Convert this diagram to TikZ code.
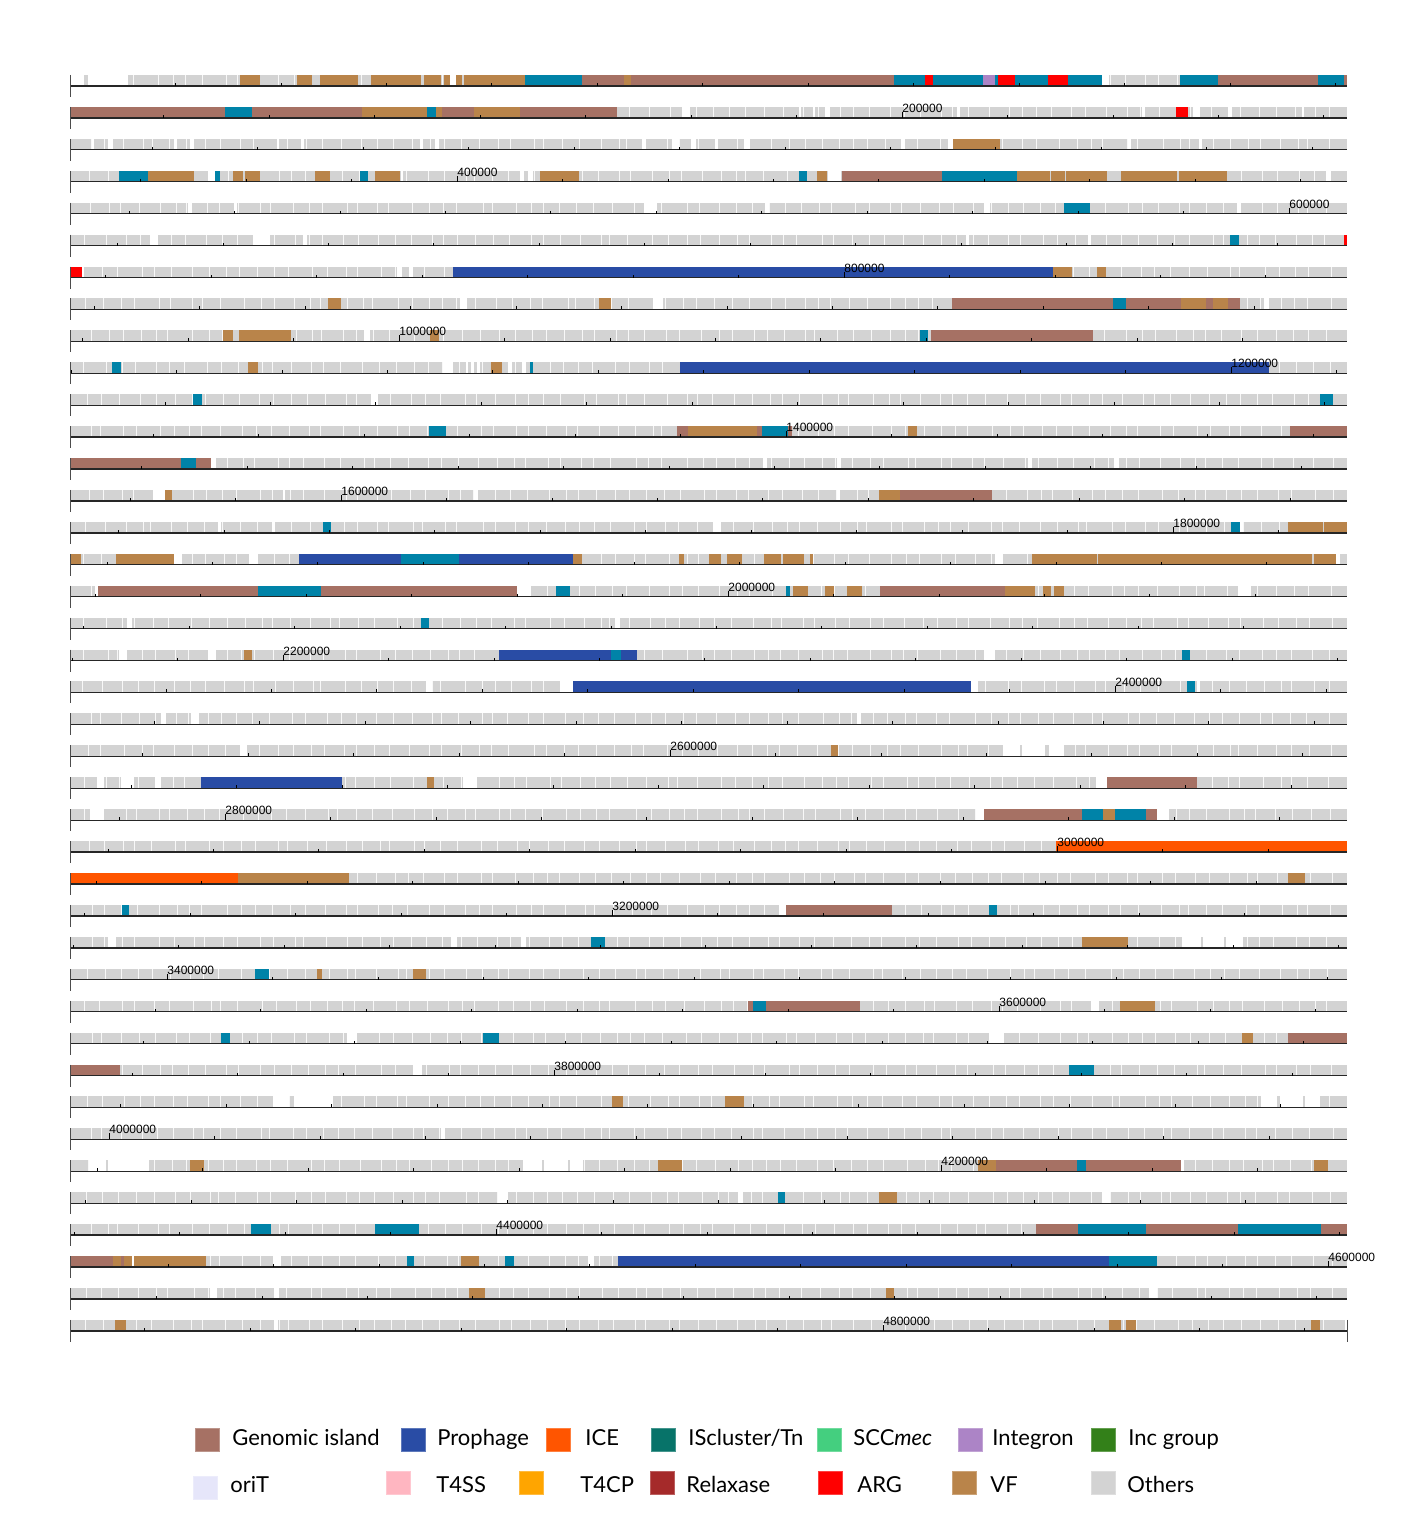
\documentclass[tikz,border=0pt]{standalone}
\usepackage{fontspec}
\usepackage{tikz}
\setmainfont{Lato}
\newfontfamily\tickfont{Liberation Sans}
\usetikzlibrary{positioning}
\definecolor{gicolor}{RGB}{166,113,100}
\definecolor{procolor}{RGB}{41,76,165}
\definecolor{icecolor}{RGB}{255,85,0}
\definecolor{istcolor}{RGB}{7,115,105}
\definecolor{isttrack}{RGB}{0,131,168}
\definecolor{scccolor}{RGB}{68,207,127}
\definecolor{igrcolor}{RGB}{172,132,198}
\definecolor{inccolor}{RGB}{51,128,25}
\definecolor{oritcolor}{RGB}{230,230,250}
\definecolor{tsscolor}{RGB}{255,182,193}
\definecolor{tcpcolor}{RGB}{255,165,0}
\definecolor{relcolor}{RGB}{165,42,42}
\definecolor{argcolor}{RGB}{255,0,0}
\definecolor{vfcolor}{RGB}{185,132,74}
\definecolor{othcolor}{RGB}{211,211,211}

\begin{document}
\begin{tikzpicture}[x=0.5pt, y=-0.5pt,
    axis/.style={draw=black!85, line width=0.65pt},
    rowstart/.style={draw=black!70, line width=0.5pt},
    tick/.style={draw=black, line width=0.4pt},
    poslabel/.style={anchor=south west, inner sep=0pt, font=\tickfont\fontsize{6}{7}\selectfont},
    legbox/.style={draw=#1!75!white, line width=0.3pt, fill=#1, minimum width=12pt, minimum height=11.5pt, inner sep=0pt},
    legtext/.style={anchor=base west, inner sep=0pt, font=\fontsize{11}{13}\selectfont}
]
\useasboundingbox (0,0) rectangle (1418,1514);

% Others (grey genes)
\pgfmathsetseed{17}
\foreach \r in {1,...,40} {
  \pgfmathsetmacro{\yb}{86+(\r-1)*31.92}
  \fill[othcolor] (70,\yb-11) rectangle (1347,\yb);
  \foreach \i in {1,...,74} {
    \pgfmathsetmacro{\sx}{70+\i*17+5*rand}
    \fill[white, opacity=0.85] (\sx,\yb-11) rectangle (\sx+0.9,\yb);
  }
}

% Elements
\foreach \r/\a/\b/\c in {
  1/240/260/vfcolor, 1/297/312/vfcolor, 1/320/358/vfcolor, 1/371/421/vfcolor, 1/424/441/vfcolor,
  1/444/450/vfcolor, 1/456/462/vfcolor, 1/464/525/vfcolor, 1/525/582/isttrack, 1/582/624/gicolor,
  1/624/631/vfcolor, 1/631/894/gicolor, 1/894/925/isttrack, 1/925/933/argcolor, 1/933/983/isttrack,
  1/983/995/igrcolor, 1/995/998/isttrack, 1/998/1015/argcolor, 1/1015/1048/isttrack, 1/1048/1068/argcolor,
  1/1068/1102/isttrack, 1/1180/1218/isttrack, 1/1218/1318/gicolor, 1/1318/1344/isttrack, 1/1344/1347/gicolor,
  2/70/225/gicolor, 2/225/252/isttrack, 2/252/362/gicolor, 2/362/427/vfcolor, 2/427/436/isttrack,
  2/436/442/vfcolor, 2/442/474/gicolor, 2/474/520/vfcolor, 2/520/617/gicolor, 2/1176/1188/argcolor,
  3/953/1000/vfcolor,
  4/119/148/isttrack, 4/148/194/vfcolor, 4/215/220/isttrack, 4/233/243/vfcolor, 4/245/260/vfcolor,
  4/315/330/vfcolor, 4/360/368/isttrack, 4/375/400/vfcolor, 4/540/579/vfcolor, 4/799/807/isttrack,
  4/817/827/vfcolor, 4/842/942/gicolor, 4/942/1017/isttrack, 4/1017/1050/vfcolor, 4/1051/1065/vfcolor,
  4/1066/1107/vfcolor, 4/1121/1177/vfcolor, 4/1179/1227/vfcolor,
  5/1064/1090/isttrack,
  6/1230/1239/isttrack, 6/1344/1347/argcolor,
  7/70/82/argcolor, 7/453/1053/procolor, 7/1053/1072/vfcolor, 7/1097/1106/vfcolor,
  8/328/341/vfcolor, 8/599/611/vfcolor, 8/952/1113/gicolor, 8/1113/1126/isttrack, 8/1126/1181/gicolor,
  8/1181/1206/vfcolor, 8/1206/1213/gicolor, 8/1213/1228/vfcolor, 8/1228/1240/gicolor,
  9/223/233/vfcolor, 9/239/291/vfcolor, 9/430/439/vfcolor, 9/920/928/isttrack, 9/931/1093/gicolor,
  10/112/121/isttrack, 10/248/258/vfcolor, 10/491/502/vfcolor, 10/530/533/isttrack, 10/680/1269/procolor,
  11/193/202/isttrack, 11/1320/1333/isttrack,
  12/429/446/isttrack, 12/677/688/gicolor, 12/688/757/vfcolor, 12/757/762/gicolor, 12/762/788/isttrack,
  12/788/792/gicolor, 12/908/917/vfcolor, 12/1290/1347/gicolor,
  13/70/181/gicolor, 13/181/196/isttrack, 13/196/211/gicolor,
  14/165/172/vfcolor, 14/879/900/vfcolor, 14/900/992/gicolor,
  15/323/331/isttrack, 15/1231/1240/isttrack, 15/1288/1323/vfcolor, 15/1324/1347/vfcolor,
  16/70/81/vfcolor, 16/116/174/vfcolor, 16/299/401/procolor, 16/401/459/isttrack, 16/459/573/procolor,
  16/573/582/vfcolor, 16/679/684/vfcolor, 16/709/721/vfcolor, 16/727/742/vfcolor, 16/764/781/vfcolor,
  16/783/804/vfcolor, 16/810/813/vfcolor, 16/1032/1097/vfcolor, 16/1098/1110/vfcolor, 16/1110/1312/vfcolor,
  16/1314/1336/vfcolor,
  17/98/258/gicolor, 17/258/321/isttrack, 17/321/517/gicolor, 17/556/570/isttrack, 17/786/790/isttrack,
  17/793/808/vfcolor, 17/825/834/vfcolor, 17/847/862/vfcolor, 17/880/1005/gicolor, 17/1005/1035/vfcolor,
  17/1043/1051/vfcolor, 17/1054/1064/vfcolor,
  18/421/429/isttrack,
  19/244/252/vfcolor, 19/499/611/procolor, 19/611/621/isttrack, 19/621/637/procolor, 19/1182/1190/isttrack,
  20/573/971/procolor, 20/1187/1195/isttrack,
  22/831/838/vfcolor,
  23/201/342/procolor, 23/427/434/vfcolor, 23/1107/1197/gicolor,
  24/984/1082/gicolor, 24/1082/1103/isttrack, 24/1103/1115/vfcolor, 24/1115/1146/isttrack, 24/1146/1157/gicolor,
  25/1056/1347/icecolor,
  26/70/238/icecolor, 26/238/283/vfcolor, 26/283/349/vfcolor, 26/1288/1305/vfcolor,
  27/122/129/isttrack, 27/786/892/gicolor, 27/989/997/isttrack,
  28/591/605/isttrack, 28/1082/1128/vfcolor,
  29/255/269/isttrack, 29/317/322/vfcolor, 29/413/426/vfcolor,
  30/748/753/gicolor, 30/753/766/isttrack, 30/766/860/gicolor, 30/1120/1155/vfcolor,
  31/221/230/isttrack, 31/483/499/isttrack, 31/1242/1253/vfcolor, 31/1288/1347/gicolor,
  32/70/120/gicolor, 32/1069/1094/isttrack,
  33/612/623/vfcolor, 33/725/744/vfcolor,
  35/190/204/vfcolor, 35/658/682/vfcolor, 35/978/996/vfcolor, 35/996/1077/gicolor, 35/1077/1086/isttrack,
  35/1086/1181/gicolor, 35/1314/1328/vfcolor,
  36/778/785/isttrack, 36/879/897/vfcolor,
  37/251/271/isttrack, 37/375/419/isttrack, 37/1036/1078/gicolor, 37/1078/1146/isttrack, 37/1146/1238/gicolor,
  37/1238/1321/isttrack, 37/1321/1347/gicolor,
  38/70/113/gicolor, 38/113/121/vfcolor, 38/121/124/gicolor, 38/124/132/vfcolor, 38/134/206/vfcolor,
  38/407/414/isttrack, 38/461/479/vfcolor, 38/505/514/isttrack, 38/618/1109/procolor, 38/1109/1157/isttrack,
  39/469/485/vfcolor, 39/886/894/vfcolor,
  40/115/126/vfcolor, 40/1109/1121/vfcolor, 40/1126/1136/vfcolor, 40/1311/1320/vfcolor} {
  \pgfmathsetmacro{\yb}{86+(\r-1)*31.92}
  \fill[fill=\c] (\a,\yb-11) rectangle (\b,\yb);
}

% Gaps between genes
\foreach \r/\a/\b in {
  1/71/84, 1/88/128, 1/450/456, 1/1102/1109,
  2/682/690, 2/799/801, 2/813/815, 2/825/830, 2/957/960, 2/1142/1145, 2/1193/1200, 2/1228/1232, 2/1302/1304,
  3/92/94, 3/108/113, 3/174/177, 3/190/194, 3/277/279, 3/301/304, 3/420/423, 3/435/439, 3/642/646,
  3/672/679, 3/691/696, 3/715/718, 3/744/750, 3/901/905, 3/948/953, 3/1128/1131, 3/1199/1202,
  4/208/215, 4/401/403, 4/520/524, 4/528/533, 4/828/841, 4/1326/1331,
  5/188/192, 5/234/237, 5/644/657, 5/765/769, 5/984/990, 5/1237/1241,
  6/150/158, 6/253/270, 6/303/307, 6/966/969, 6/1088/1091,
  7/82/84, 7/397/402, 7/409/413,
  8/460/467, 8/653/663, 8/1264/1269,
  9/364/370,
  10/443/453, 10/466/468, 10/471/474, 10/477/480, 10/508/512, 10/522/526,
  11/371/378,
  13/211/216, 13/763/767, 13/837/841, 13/1028/1032, 13/1114/1119,
  14/153/165, 14/283/285, 14/474/478, 14/837/840,
  15/218/221, 15/272/275, 15/713/721, 15/1240/1243,
  16/174/182, 16/249/258, 16/995/1003, 16/1336/1340,
  17/95/98, 17/517/531, 17/1238/1251,
  18/127/132, 18/615/620,
  19/119/127, 19/208/216, 19/984/995,
  20/426/432, 20/560/573, 20/971/978, 20/1197/1200,
  21/161/166, 21/191/199, 21/857/861,
  22/240/247, 22/1003/1020, 22/1022/1045, 22/1049/1064,
  23/97/104, 23/121/134, 23/155/161, 23/463/477, 23/1096/1107,
  24/90/104, 24/976/984, 24/1157/1169,
  27/779/786,
  28/108/116, 28/451/457, 28/521/526, 28/1182/1201, 28/1203/1224, 28/1226/1243,
  30/1091/1099,
  31/347/357, 31/989/1004,
  32/413/422,
  33/273/289, 33/294/333, 33/1261/1277, 33/1280/1303, 33/1305/1320,
  34/441/445,
  35/89/106, 35/108/149, 35/523/542, 35/544/568, 35/570/583, 35/1181/1184,
  36/498/508, 36/738/743, 36/1102/1110,
  38/132/134, 38/273/281, 38/588/594,
  39/210/217, 39/274/279, 39/1149/1157,
  40/274/278, 40/1345/1347} {
  \pgfmathsetmacro{\yb}{86+(\r-1)*31.92}
  \fill[white] (\a,\yb-11.5) rectangle (\b,\yb-0.2);
}

% Axes
\foreach \r in {1,...,40} {
  \pgfmathsetmacro{\yb}{86+(\r-1)*31.92}
  \draw[axis] (70,\yb) -- (1347,\yb);
  \draw[rowstart] (70,\yb-11) -- (70,\yb+11);
}
\draw[rowstart] (1347,1319.9) -- (1347,1341.9);

% Ticks every 10 kb, labels every 200 kb
\foreach \m in {1,...,484} {
  \pgfmathtruncatemacro{\rw}{floor(\m/12.11)}
  \pgfmathsetmacro{\tx}{70+(\m-\rw*12.11)*105.45}
  \pgfmathsetmacro{\yb}{86+\rw*31.92}
  \pgfmathtruncatemacro{\islbl}{mod(\m,20)==0 ? 1 : 0}
  \ifnum\islbl=1
    \draw[tick] (\tx,\yb) -- (\tx,\yb-6);
    \node[poslabel] (pos\m) at (\tx,\yb-5) {\m0000};
  \else
    \draw[tick] (\tx,\yb) -- (\tx,\yb-3);
  \fi
}

% Legend
\node[legbox=gicolor] (box-gi) at (207,1439.5) {};
\node[legtext] (txt-gi) at (232,1445) {Genomic island};
\node[legbox=procolor] (box-pro) at (413,1439.5) {};
\node[legtext] (txt-pro) at (437,1445) {Prophage};
\node[legbox=icecolor] (box-ice) at (558,1439.5) {};
\node[legtext] (txt-ice) at (585,1445) {ICE};
\node[legbox=istcolor] (box-ist) at (663,1439.5) {};
\node[legtext] (txt-ist) at (688,1445) {IScluster/Tn};
\node[legbox=scccolor] (box-scc) at (829,1439.5) {};
\node[legtext] (txt-scc) at (853,1445) {SCC\textit{mec}};
\node[legbox=igrcolor] (box-igr) at (970,1439.5) {};
\node[legtext] (txt-igr) at (992,1445) {Integron};
\node[legbox=inccolor] (box-inc) at (1103,1439.5) {};
\node[legtext] (txt-inc) at (1128,1445) {Inc group};

\node[legbox=oritcolor] (box-orit) at (205,1488) {};
\node[legtext] (txt-orit) at (230,1492) {oriT};
\node[legbox=tsscolor] (box-tss) at (398,1483) {};
\node[legtext] (txt-tss) at (436,1492) {T4SS};
\node[legbox=tcpcolor] (box-tcp) at (531,1483) {};
\node[legtext] (txt-tcp) at (580,1492) {T4CP};
\node[legbox=relcolor] (box-rel) at (662,1483) {};
\node[legtext] (txt-rel) at (686,1492) {Relaxase};
\node[legbox=argcolor] (box-arg) at (830,1483) {};
\node[legtext] (txt-arg) at (857,1492) {ARG};
\node[legbox=vfcolor] (box-vf) at (964,1483) {};
\node[legtext] (txt-vf) at (990,1492) {VF};
\node[legbox=othcolor] (box-oth) at (1103,1483) {};
\node[legtext] (txt-oth) at (1127,1492) {Others};

\end{tikzpicture}
\end{document}
